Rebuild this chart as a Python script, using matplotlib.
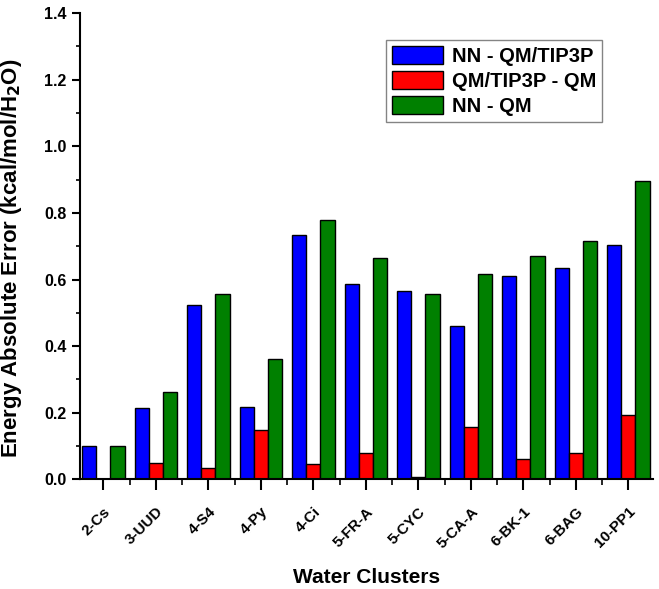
import numpy as np
import matplotlib.pyplot as plt
from matplotlib.ticker import MultipleLocator

plt.rcParams['font.family'] = ['Liberation Sans', 'DejaVu Sans']
plt.rcParams['font.weight'] = 'bold'

clusters = ['2-Cs', '3-UUD', '4-S4', '4-Py', '4-Ci', '5-FR-A', '5-CYC',
            '5-CA-A', '6-BK-1', '6-BAG', '10-PP1']
nn_vs_qmtip3p = [0.099, 0.214, 0.525, 0.216, 0.734, 0.586, 0.566, 0.461, 0.612, 0.636, 0.703]
qmtip3p_vs_qm = [0.0, 0.050, 0.033, 0.147, 0.046, 0.080, 0.008, 0.158, 0.060, 0.080, 0.193]
nn_vs_qm = [0.099, 0.263, 0.557, 0.361, 0.780, 0.665, 0.558, 0.618, 0.671, 0.716, 0.895]

fig = plt.figure(figsize=(6.59, 5.89), dpi=100)
ax = fig.add_axes([0.121, 0.186, 0.870, 0.792])

x = np.arange(len(clusters))
w = 0.27
ax.bar(x - w, nn_vs_qmtip3p, w, color='#0000ff', edgecolor='black', linewidth=1.0,
       label='NN - QM/TIP3P')
ax.bar(x, qmtip3p_vs_qm, w, color='#ff0000', edgecolor='black', linewidth=1.0,
       label='QM/TIP3P - QM')
ax.bar(x + w, nn_vs_qm, w, color='#008000', edgecolor='black', linewidth=1.0,
       label='NN - QM')

ax.set_xlim(-0.45, 10.47)
ax.set_ylim(0, 1.4)
ax.yaxis.set_major_locator(MultipleLocator(0.2))
ax.yaxis.set_minor_locator(MultipleLocator(0.1))
ax.set_xticks(x)
ax.set_xticks(x[:-1] + 0.5, minor=True)
ax.set_xticklabels(clusters, rotation=45, ha='right', rotation_mode='anchor',
                   fontsize=11, fontweight='bold')
for lbl in ax.get_yticklabels():
    lbl.set_fontweight('bold')
ax.tick_params(axis='y', which='major', direction='out', length=6, width=1.5, labelsize=11.5)
ax.tick_params(axis='y', which='minor', direction='out', length=3, width=1.2)
ax.tick_params(axis='x', which='major', direction='out', length=8, width=1.5, pad=10)
ax.tick_params(axis='x', which='minor', direction='out', length=4, width=1.2)

for side in ['top', 'right']:
    ax.spines[side].set_visible(False)
for side in ['left', 'bottom']:
    ax.spines[side].set_linewidth(1.5)

ax.set_xlabel('Water Clusters', fontsize=15, fontweight='bold', labelpad=12)
ax.set_ylabel('Energy Absolute Error (kcal/mol/H$_\\mathbf{2}$O)', fontsize=16,
              fontweight='bold')
ax.yaxis.set_label_coords(-0.098, 0.475)

leg = ax.legend(loc='upper right', bbox_to_anchor=(0.911, 0.942), fontsize=14.5,
                frameon=True, fancybox=False, edgecolor='#666666',
                handlelength=2.5, handleheight=1.0, handletextpad=0.45,
                borderpad=0.3, labelspacing=0.25, borderaxespad=0)
leg.get_frame().set_linewidth(1.0)
for t in leg.get_texts():
    t.set_fontweight('bold')

fig.savefig('out.png', dpi=100)
